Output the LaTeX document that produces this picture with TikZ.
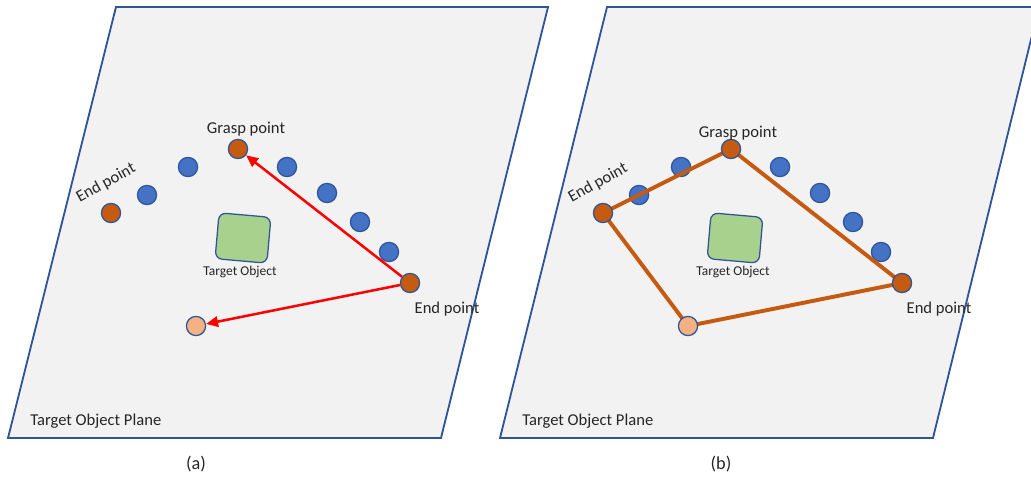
\documentclass[tikz,border=0pt]{standalone}
\usepackage{fontspec}
\setmainfont{Carlito}
\usetikzlibrary{arrows.meta}

\definecolor{planeedge}{HTML}{2F5597}
\definecolor{planefill}{HTML}{F2F2F2}
\definecolor{ptblue}{HTML}{4472C4}
\definecolor{ptorange}{HTML}{C55A11}
\definecolor{ptlight}{HTML}{F4B183}
\definecolor{objgreen}{HTML}{A9D18E}

\tikzset{
  plane/.style={draw=planeedge, fill=planefill, line width=1.3pt},
  pt/.style={circle, draw=planeedge, line width=0.9pt, minimum size=0.48cm, inner sep=0pt},
  bluept/.style={pt, fill=ptblue},
  keypt/.style={pt, fill=ptorange},
  startpt/.style={pt, fill=ptlight},
  object/.style={draw=planeedge, fill=objgreen, rounded corners=5pt, line width=0.9pt,
    minimum width=1.3cm, minimum height=1.15cm, inner sep=0pt, rotate=-5},
  lbl/.style={font=\fontsize{11.8}{13}\selectfont, text=black!85, inner sep=0pt},
  smalllbl/.style={font=\fontsize{9.6}{11}\selectfont, text=black!85, inner sep=0pt},
  caplbl/.style={font=\fontsize{13}{15}\selectfont, text=black!85, inner sep=0pt},
  sweep/.style={draw=red, line width=1.8pt, -{Triangle[length=0.3cm, width=0.26cm]}},
  loopline/.style={draw=ptorange, line width=2.8pt, line join=round}
}

\begin{document}
\begin{tikzpicture}[x=0.025cm, y=-0.025cm]
  \useasboundingbox (0,0) rectangle (1031,478);
  \clip (0,0) rectangle (1031,478);

  % (a) plane
  \draw[plane] (116,7) -- (548,7) -- (441,438) -- (8,438) -- cycle;
  \node[object] (objA) at (243,238) {};
  \node[smalllbl] (objlblA) at (240,272) {Target Object};
  \node[lbl, anchor=west] (planelblA) at (30,421) {Target Object Plane};

  % (a) points on the arc
  \node[bluept] (a1) at (147,195) {};
  \node[bluept] (a2) at (188,167) {};
  \node[bluept] (a3) at (287,167) {};
  \node[bluept] (a4) at (327,193) {};
  \node[bluept] (a5) at (360,222) {};
  \node[bluept] (a6) at (389,252) {};
  \node[keypt] (endlA) at (111,213) {};
  \node[keypt] (graspA) at (238,149) {};
  \node[keypt] (endrA) at (410,283) {};
  \node[startpt] (startA) at (196,326) {};

  % (a) sweeps from the end point
  \draw[sweep] (endrA) -- (graspA);
  \draw[sweep] (endrA) -- (startA);

  \node[lbl] (grasplblA) at (246,129) {Grasp point};
  \node[lbl, rotate=29] (endllblA) at (106,183) {End point};
  \node[lbl] (endrlblA) at (447,309) {End point};
  \node[caplbl] (capA) at (196,464) {(a)};

  % (b) plane
  \draw[plane] (607,7) -- (1039,7) -- (933,438) -- (500,438) -- cycle;
  \node[object] (objB) at (735,238) {};
  \node[smalllbl] (objlblB) at (733,272) {Target Object};
  \node[lbl, anchor=west] (planelblB) at (522,421) {Target Object Plane};

  % (b) points on the arc
  \node[bluept] (b1) at (639,195) {};
  \node[bluept] (b2) at (681,167) {};
  \node[bluept] (b3) at (780,167) {};
  \node[bluept] (b4) at (820,193) {};
  \node[bluept] (b5) at (853,222) {};
  \node[bluept] (b6) at (881,252) {};

  % (b) closed loop through the key points
  \coordinate (endlB) at (603,213);
  \coordinate (graspB) at (731,149);
  \coordinate (endrB) at (902,283);
  \coordinate (startB) at (688,326);
  \draw[loopline] (endlB) -- (graspB) -- (endrB) -- (startB) -- cycle;
  \node[keypt] at (endlB) {};
  \node[keypt] at (graspB) {};
  \node[keypt] at (endrB) {};
  \node[startpt] at (startB) {};

  \node[lbl] (grasplblB) at (738,133) {Grasp point};
  \node[lbl, rotate=29] (endllblB) at (598,183) {End point};
  \node[lbl] (endrlblB) at (939,309) {End point};
  \node[caplbl] (capB) at (721,464) {(b)};
\end{tikzpicture}
\end{document}
